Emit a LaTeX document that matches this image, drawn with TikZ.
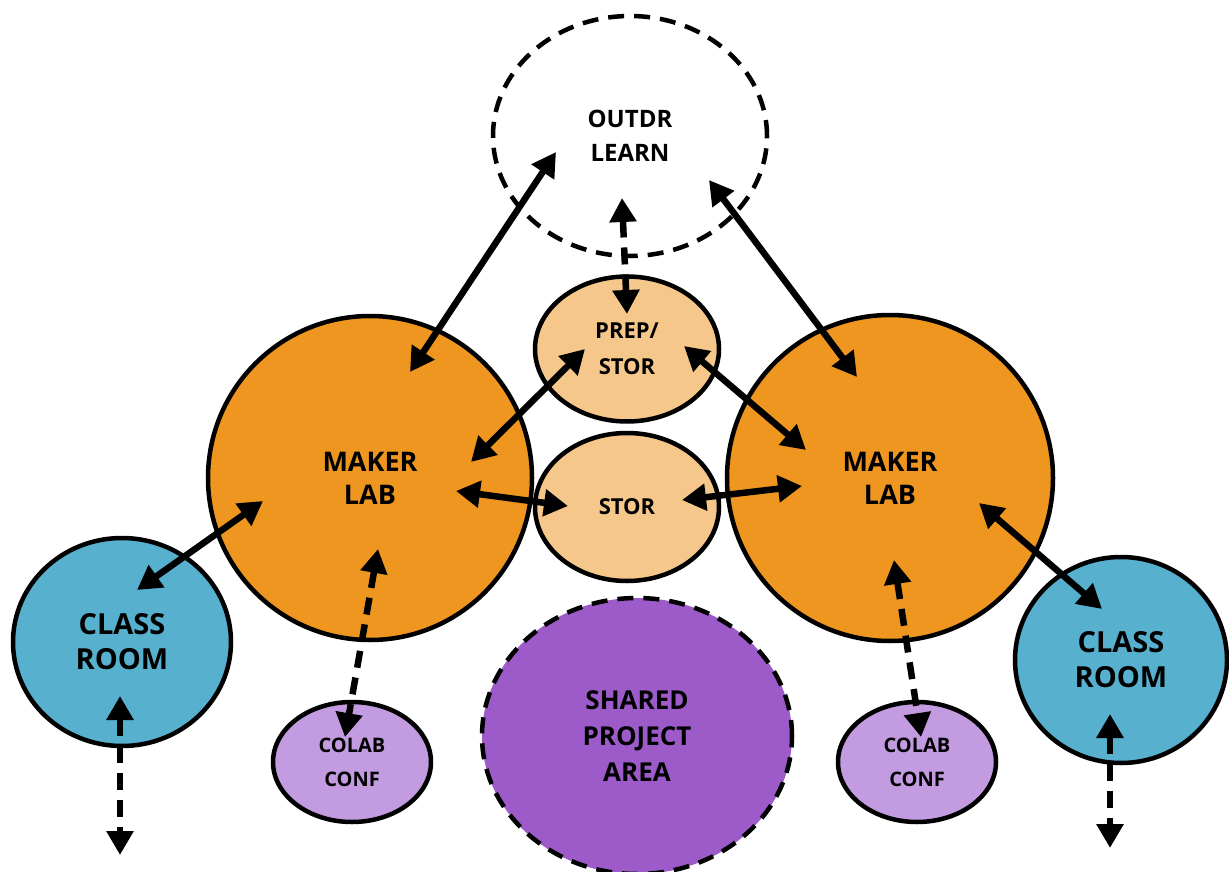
\documentclass[tikz,border=0pt]{standalone}
\usepackage{fontspec}
\setmainfont{Open Sans}
\usetikzlibrary{arrows.meta,shapes.geometric}
\definecolor{maker}{HTML}{EE961F}
\definecolor{prep}{HTML}{F6C78B}
\definecolor{classc}{HTML}{56B0CE}
\definecolor{colab}{HTML}{C39BE0}
\definecolor{shared}{HTML}{9C5BC8}
\begin{document}
\begin{tikzpicture}[x=1pt,y=-1pt,
  blob/.style={ellipse,draw=black,line width=4.5pt,inner sep=0pt,align=center,font=\bfseries},
  dashedblob/.style={blob,dash pattern=on 16pt off 10pt},
  link/.style={line width=6.5pt,{Triangle[length=24pt,width=26pt]}-{Triangle[length=24pt,width=26pt]}},
  dlink/.style={link,dash pattern=on 17pt off 10pt}]
\useasboundingbox (0,0) rectangle (1229,872);
\node[dashedblob,fill=white,minimum width=274pt,minimum height=240pt,font=\bfseries\fontsize{24}{34}\selectfont] (out) at (630,136) {OUTDR\\LEARN};
\node[blob,fill=prep,minimum width=184pt,minimum height=145pt,font=\bfseries\fontsize{22}{36}\selectfont] (prep) at (627,349) {PREP/\\STOR};
\node[blob,fill=prep,minimum width=184pt,minimum height=148pt,font=\bfseries\fontsize{22}{34}\selectfont] (stor) at (627,507) {STOR};
\node[blob,fill=maker,minimum width=324pt,minimum height=324pt,font=\bfseries\fontsize{27}{33}\selectfont] (ml) at (370,478) {MAKER\\LAB};
\node[blob,fill=maker,minimum width=326pt,minimum height=326pt,font=\bfseries\fontsize{27}{33}\selectfont] (mr) at (890,478) {MAKER\\LAB};
\node[blob,fill=classc,minimum width=218pt,minimum height=208pt,font=\bfseries\fontsize{29}{35}\selectfont] (cl) at (122,642) {CLASS\\ROOM};
\node[blob,fill=classc,minimum width=212pt,minimum height=206pt,font=\bfseries\fontsize{29}{35}\selectfont] (cr) at (1121,660) {CLASS\\ROOM};
\node[blob,fill=colab,minimum width=158pt,minimum height=120pt,font=\bfseries\fontsize{20}{34}\selectfont] (kl) at (352,762) {COLAB\\CONF};
\node[blob,fill=colab,minimum width=158pt,minimum height=120pt,font=\bfseries\fontsize{20}{34}\selectfont] (kr) at (917,762) {COLAB\\CONF};
\node[dashedblob,fill=shared,minimum width=310pt,minimum height=276pt,font=\bfseries\fontsize{26}{36}\selectfont] (sh) at (637,736) {SHARED\\PROJECT\\AREA};
% arrow end points
\coordinate (a1) at (410,372); \coordinate (b1) at (556,152);
\coordinate (a2) at (857,377); \coordinate (b2) at (709,180);
\coordinate (a3) at (622,198); \coordinate (b3) at (627,314);
\coordinate (a4) at (585,349); \coordinate (b4) at (471,462);
\coordinate (a5) at (684,346); \coordinate (b5) at (806,450);
\coordinate (a6) at (456,491); \coordinate (b6) at (568,506);
\coordinate (a7) at (682,500); \coordinate (b7) at (802,486);
\coordinate (a8) at (263,501); \coordinate (b8) at (137,590);
\coordinate (a9) at (378,549); \coordinate (b9) at (345,737);
\coordinate (a10) at (120,696); \coordinate (b10) at (120,855);
\coordinate (a11) at (979,503); \coordinate (b11) at (1102,609);
\coordinate (a12) at (894,560); \coordinate (b12) at (921,737);
\coordinate (a13) at (1110,714); \coordinate (b13) at (1110,848);
\draw[link] (a1) -- (b1);
\draw[link] (a2) -- (b2);
\draw[dlink] (a3) -- (b3);
\draw[link] (a4) -- (b4);
\draw[link] (a5) -- (b5);
\draw[link] (a6) -- (b6);
\draw[link] (a7) -- (b7);
\draw[link] (a8) -- (b8);
\draw[dlink] (a9) -- (b9);
\draw[dlink] (a10) -- (b10);
\draw[link] (a11) -- (b11);
\draw[dlink] (a12) -- (b12);
\draw[dlink] (a13) -- (b13);
\end{tikzpicture}
\end{document}
